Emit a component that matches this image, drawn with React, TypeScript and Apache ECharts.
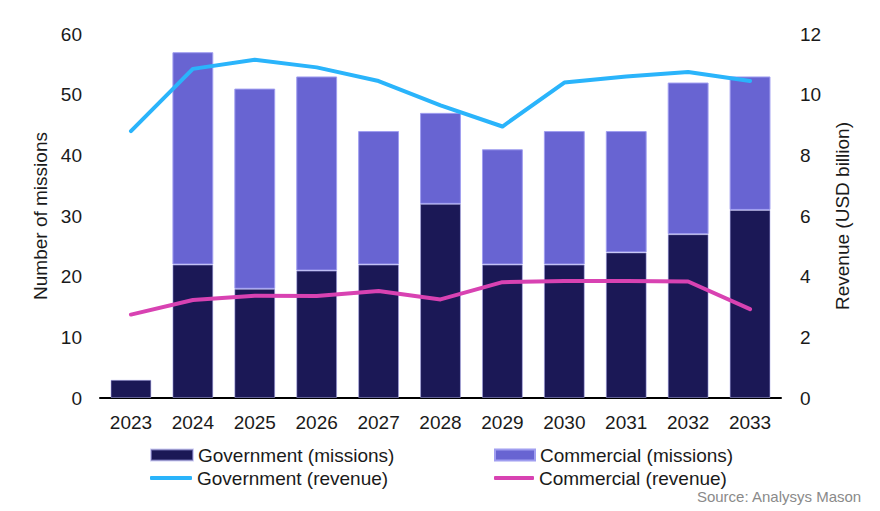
import React, { useEffect, useRef } from "react";
import * as echarts from "echarts";

const years = ["2023", "2024", "2025", "2026", "2027", "2028", "2029", "2030", "2031", "2032", "2033"];
const govMissions = [3, 22, 18, 21, 22, 32, 22, 22, 24, 27, 31];
const comMissions = [0, 35, 33, 32, 22, 15, 19, 22, 20, 25, 22];
const govRevenue = [8.8, 10.85, 11.15, 10.9, 10.45, 9.65, 8.95, 10.4, 10.6, 10.75, 10.45];
const comRevenue = [2.75, 3.23, 3.37, 3.36, 3.53, 3.25, 3.82, 3.86, 3.86, 3.84, 2.93];

const FONT = "Liberation Sans";
const TXT = "#1a1a1a";

export default function App() {
  const ref = useRef<HTMLDivElement>(null);
  useEffect(() => {
    if (!ref.current) return;
    const chart = echarts.init(ref.current, undefined, { renderer: "svg" });
    const legendText = { fontFamily: FONT, fontSize: 19, color: TXT, lineHeight: 20 };
    const legendBase = { padding: 0, itemGap: 0, textStyle: legendText };
    chart.setOption({
      animation: false,
      textStyle: { fontFamily: FONT },
      grid: { left: 100, right: 99, top: 34, bottom: 113, containLabel: false },
      legend: [
        { ...legendBase, data: ["Government (missions)"], left: 150, top: 445, itemWidth: 42, itemHeight: 11, icon: "rect" },
        { ...legendBase, data: ["Commercial (missions)"], left: 494, top: 445, itemWidth: 40, itemHeight: 11, icon: "rect" },
        { ...legendBase, data: ["Government (revenue)"], left: 150, top: 468, itemWidth: 42, itemHeight: 4, icon: "roundRect" },
        { ...legendBase, data: ["Commercial (revenue)"], left: 494, top: 468, itemWidth: 40, itemHeight: 4, icon: "roundRect" },
      ],
      graphic: [
        {
          type: "text",
          right: 18,
          top: 489,
          style: { text: "Source: Analysys Mason", fill: "#8a8a8a", font: `15px "${FONT}"` },
        },
      ],
      xAxis: {
        type: "category",
        data: years,
        boundaryGap: true,
        axisLine: { show: true, lineStyle: { color: "#000", width: 2 } },
        axisTick: { show: false },
        axisLabel: { color: TXT, fontSize: 19, fontFamily: FONT, margin: 15 },
      },
      yAxis: [
        {
          type: "value",
          min: 0,
          max: 60,
          interval: 10,
          name: "Number of missions",
          nameLocation: "middle",
          nameRotate: 90,
          nameGap: 50,
          nameTextStyle: { color: TXT, fontSize: 19, fontFamily: FONT },
          axisLine: { show: false },
          axisTick: { show: false },
          splitLine: { show: false },
          axisLabel: { color: TXT, fontSize: 19, fontFamily: FONT, margin: 18 },
        },
        {
          type: "value",
          min: 0,
          max: 12,
          interval: 2,
          position: "right",
          name: "Revenue (USD billion)",
          nameLocation: "middle",
          nameRotate: 90,
          nameGap: 52,
          nameTextStyle: { color: TXT, fontSize: 19, fontFamily: FONT },
          axisLine: { show: false },
          axisTick: { show: false },
          splitLine: { show: false },
          axisLabel: { color: TXT, fontSize: 19, fontFamily: FONT, margin: 19 },
        },
      ],
      series: [
        {
          name: "Government (missions)",
          type: "bar",
          stack: "m",
          barWidth: "66%",
          data: govMissions,
          itemStyle: { color: "#1B1856", borderColor: "rgba(170,168,235,0.55)", borderWidth: 1 },
        },
        {
          name: "Commercial (missions)",
          type: "bar",
          stack: "m",
          barWidth: "66%",
          data: comMissions.map((v) => (v === 0 ? "-" : v)),
          itemStyle: { color: "#6864D2", borderColor: "#a09ef0", borderWidth: 1 },
        },
        {
          name: "Government (revenue)",
          type: "line",
          yAxisIndex: 1,
          data: govRevenue,
          showSymbol: false,
          symbol: "none",
          z: 5,
          itemStyle: { color: "#2AB4FB" },
          lineStyle: { color: "#2AB4FB", width: 4, cap: "round", join: "round" },
        },
        {
          name: "Commercial (revenue)",
          type: "line",
          yAxisIndex: 1,
          data: comRevenue,
          showSymbol: false,
          symbol: "none",
          z: 5,
          itemStyle: { color: "#D842B2" },
          lineStyle: { color: "#D842B2", width: 4, cap: "round", join: "round" },
        },
      ],
    });
    return () => chart.dispose();
  }, []);
  return <div ref={ref} style={{ position: "fixed", left: 0, top: 0, width: 880, height: 511, background: "#fff" }} />;
}
